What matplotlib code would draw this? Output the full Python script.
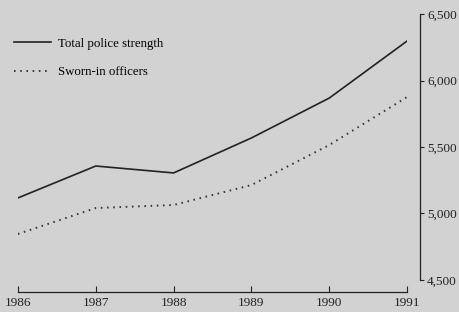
import matplotlib
matplotlib.use("Agg")
import matplotlib.pyplot as plt
from matplotlib.ticker import FuncFormatter

# data
years = [1986, 1987, 1988, 1989, 1990, 1991]
total_strength = [5117, 5357, 5305, 5568, 5868, 6297]
sworn_in = [4846, 5041, 5064, 5214, 5515, 5876]
y_ticks = [4500, 5000, 5500, 6000, 6500]

bg = "#d2d2d2"
plt.rcParams['font.family'] = ['Liberation Serif', 'DejaVu Serif']

fig = plt.figure(figsize=(4.6, 3.12), dpi=100, facecolor=bg)
ax = fig.add_axes([0.039, 0.1026, 0.846, 0.8525], facecolor=bg)

ax.plot(years, total_strength, color="#222222", lw=1.2, label="Total police strength")
ax.plot(years, sworn_in, color="#333333", lw=1.4, linestyle=(0, (0.8, 2.4)), label="Sworn-in officers")

ax.set_xlim(1986, 1991)
ax.set_ylim(4500, 6500)

# y axis on the right, pushed out a bit
ax.spines['left'].set_visible(False)
ax.spines['top'].set_visible(False)
ax.spines['right'].set_position(('outward', 9.4))
ax.spines['bottom'].set_position(('outward', 8.6))
ax.spines['right'].set_color("#222222")
ax.spines['bottom'].set_color("#222222")
ax.spines['right'].set_linewidth(0.9)
ax.spines['bottom'].set_linewidth(0.9)

ax.yaxis.tick_right()
ax.set_yticks(y_ticks)
ax.yaxis.set_major_formatter(FuncFormatter(lambda v, p: f"{int(v):,}"))
ax.tick_params(axis='y', direction='out', length=3, width=0.8, labelsize=9.5, pad=2, colors="#222222")

ax.set_xticks(years)
ax.tick_params(axis='x', direction='in', length=4, width=0.8, labelsize=9.5, pad=3.5, colors="#222222")

fig.legend(loc="upper left", bbox_to_anchor=(0.02, 0.895), frameon=False, fontsize=9.3,
           handlelength=2.8, handletextpad=0.55, labelspacing=1.25, borderaxespad=0)

fig.savefig("out.png", dpi=100, facecolor=bg)
